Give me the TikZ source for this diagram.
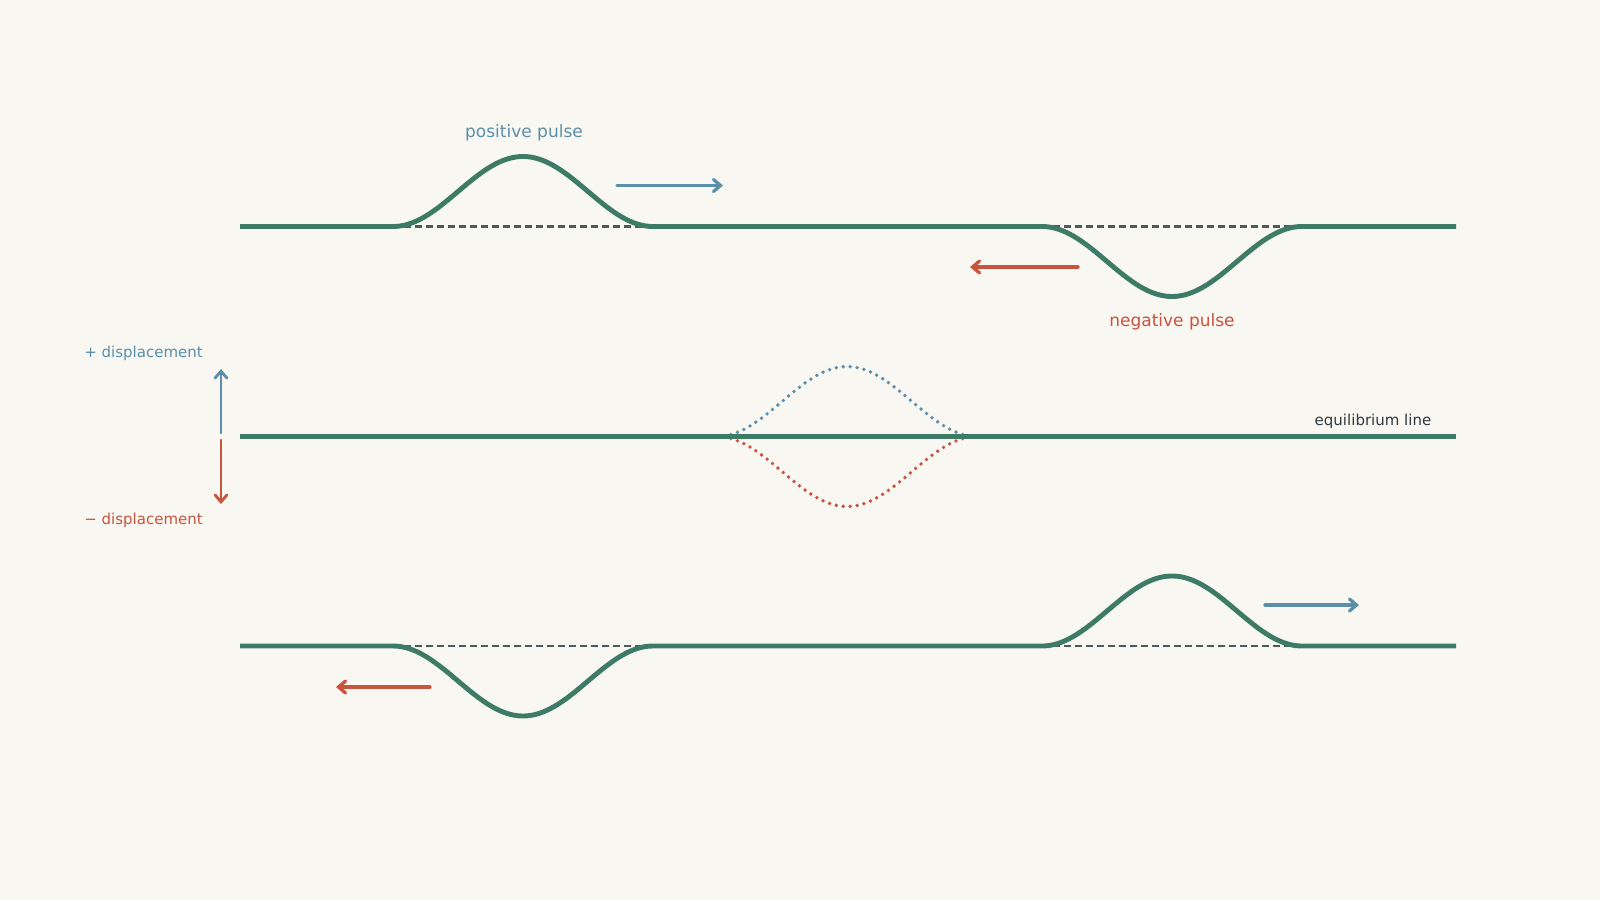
\documentclass[tikz,border=0pt]{standalone}
\usepackage{fontspec}
\setmainfont{DejaVu Sans}
\usetikzlibrary{arrows.meta}
\definecolor{bgc}{HTML}{F9F7F1}
\definecolor{wgreen}{HTML}{3E7B67}
\definecolor{pblue}{HTML}{5B8FA9}
\definecolor{nred}{HTML}{C8533F}
\definecolor{dashc}{HTML}{4D5A5C}
\definecolor{txtc}{HTML}{2F3B40}
\begin{document}
\begin{tikzpicture}[x=1pt,y=-1pt,
  wave/.style={line width=4.9pt, draw=wgreen, line join=round},
  eqdash/.style={line width=2.1pt, draw=dashc, dash pattern=on 7pt off 4pt},
  arr/.style={line width=3.3pt, line cap=round, -{Straight Barb[length=7pt,width=12pt,line cap=round]}},
  dotc/.style={line width=3.8pt, line cap=round, dash pattern=on 0pt off 7pt},
  lbl/.style={inner sep=0pt, anchor=base}]
\fill[bgc] (0,0) rectangle (1600,900);
\useasboundingbox (0,0) rectangle (1600,900);

% ---------- top row ----------
\draw[eqdash] (393,226.5) -- (653,226.5);
\draw[eqdash] (1042,226.5) -- (1302,226.5);
\draw[wave] (240,226.5) -- (393,226.5)
  -- plot[domain=393:653,samples=90] (\x,{226.5-35*(1-cos(1.384615*(\x-393)))})
  -- (1042,226.5)
  -- plot[domain=1042:1302,samples=90] (\x,{226.5+35*(1-cos(1.384615*(\x-1042)))})
  -- (1456,226.5);
\coordinate (ta1) at (617,185.5);
\coordinate (ta2) at (723,185.5);
\draw[arr,pblue] (ta1) -- (ta2);
\coordinate (tb1) at (1078,267);
\coordinate (tb2) at (970,267);
\draw[arr,nred] (tb1) -- (tb2);
\node[lbl,text=pblue,font=\fontsize{17}{20}\selectfont] (pos) at (524,137) {positive pulse};
\node[lbl,text=nred,font=\fontsize{17}{20}\selectfont] (neg) at (1172,326) {negative pulse};

% ---------- middle row ----------
\draw[dotc,pblue] plot[domain=717:977,samples=90] (\x,{436.5-35*(1-cos(1.384615*(\x-717)))});
\draw[dotc,nred] plot[domain=717:977,samples=90] (\x,{436.5+35*(1-cos(1.384615*(\x-717)))});
\draw[wave] (240,436.5) -- (1456,436.5);
\node[lbl,text=txtc,font=\fontsize{15}{18}\selectfont] (eq) at (1373,425) {equilibrium line};
\coordinate (va0) at (221,433);
\coordinate (va1) at (221,369);
\coordinate (vb0) at (221,440);
\coordinate (vb1) at (221,504);
\draw[arr,pblue,line width=2.8pt] (va0) -- (va1);
\draw[arr,nred,line width=2.8pt] (vb0) -- (vb1);
\node[inner sep=0pt,anchor=base east,text=pblue,font=\fontsize{15}{18}\selectfont] (pd) at (203,357) {+ displacement};
\node[inner sep=0pt,anchor=base east,text=nred,font=\fontsize{15}{18}\selectfont] (nd) at (203,524.5) {− displacement};

% ---------- bottom row ----------
\draw[eqdash] (393,646) -- (653,646);
\draw[eqdash] (1042,646) -- (1302,646);
\draw[wave] (240,646) -- (393,646)
  -- plot[domain=393:653,samples=90] (\x,{646+35*(1-cos(1.384615*(\x-393)))})
  -- (1042,646)
  -- plot[domain=1042:1302,samples=90] (\x,{646-35*(1-cos(1.384615*(\x-1042)))})
  -- (1456,646);
\coordinate (ba1) at (430,687);
\coordinate (ba2) at (336,687);
\draw[arr,nred] (ba1) -- (ba2);
\coordinate (bb1) at (1265,605);
\coordinate (bb2) at (1359,605);
\draw[arr,pblue] (bb1) -- (bb2);
\end{tikzpicture}
\end{document}
